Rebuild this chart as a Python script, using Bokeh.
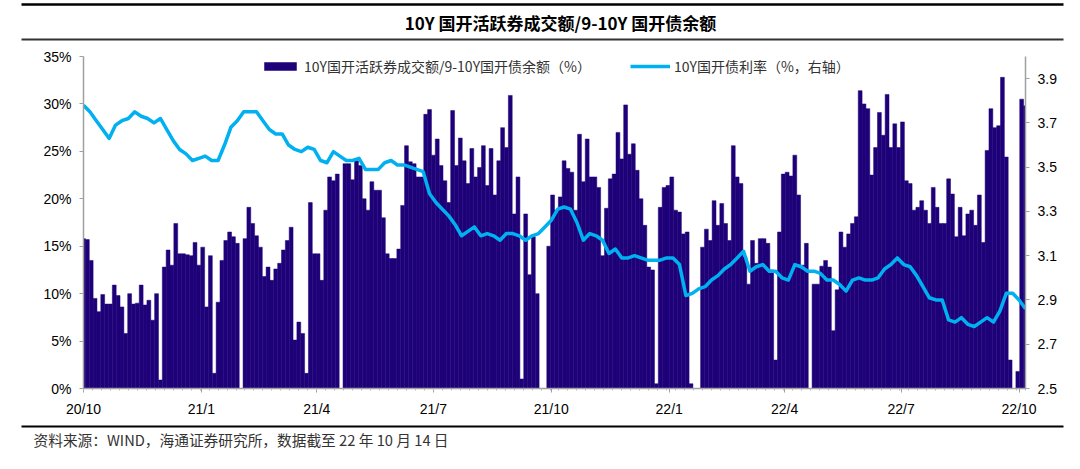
import pandas as pd
from bokeh.plotting import figure
from bokeh.models import (Range1d, LinearAxis, FixedTicker, PrintfTickFormatter,
                          Legend, LegendItem, ColumnDataSource)
from bokeh.layouts import column
from bokeh.embed import file_html
from bokeh.resources import INLINE
from bokeh.core.properties import value

# ---------------- data ----------------
start_date = "2020-10-09"
end_date = "2022-10-14"

bar_step_days = 3
bar_values = [
    15.8, 15.7, 13.5, 9.5, 8.1, 9.9, 8.9, 8.9, 10.9, 9.8,
    8.6, 5.8, 10.0, 8.9, 9.0, 10.9, 8.8, 9.3, 7.2, 10.0,
    0.9, 12.8, 14.6, 13.0, 17.4, 14.2, 14.2, 14.1, 14.0, 15.4,
    13.0, 14.9, 8.6, 14.0, 1.6, 9.1, 13.5, 15.6, 16.5, 16.0,
    15.3, 0.0, 15.8, 19.1, 17.4, 16.1, 14.9, 11.8, 12.8, 11.4,
    12.6, 13.2, 14.6, 15.6, 17.0, 5.1, 7.0, 5.8, 1.6, 19.6,
    14.2, 14.2, 11.4, 18.8, 22.3, 21.9, 22.6, 0.0, 23.7, 23.7,
    22.0, 24.0, 23.5, 20.0, 18.8, 21.8, 20.9, 20.9, 18.0, 14.2,
    13.7, 13.7, 14.7, 19.3, 25.6, 23.9, 23.7, 22.3, 22.3, 28.9,
    29.4, 24.6, 26.3, 23.5, 21.9, 19.6, 29.3, 23.5, 26.4, 24.0,
    21.6, 25.3, 22.3, 23.3, 25.6, 21.4, 25.3, 20.4, 24.0, 27.5,
    25.4, 30.9, 18.4, 22.3, 1.0, 18.4, 12.0, 16.0, 10.0, 0.0,
    0.0, 15.0, 20.4, 18.8, 20.2, 24.0, 23.2, 22.8, 18.8, 26.8,
    21.8, 26.3, 22.3, 22.3, 21.2, 14.0, 19.0, 22.1, 22.6, 27.0,
    24.2, 29.9, 24.7, 25.8, 23.0, 20.0, 17.2, 12.8, 12.5, 0.5,
    19.1, 21.2, 21.4, 22.3, 18.8, 18.6, 16.3, 16.5, 0.5, 0.0,
    0.0, 14.9, 16.8, 15.6, 19.8, 17.2, 19.5, 17.4, 15.6, 25.6,
    22.3, 21.6, 13.9, 11.0, 15.6, 13.2, 15.8, 15.8, 15.3, 12.5,
    3.0, 16.5, 22.6, 22.8, 22.4, 24.6, 20.4, 13.0, 15.3, 0.0,
    11.0, 11.0, 12.9, 13.5, 12.8, 6.1, 10.4, 16.5, 14.9, 16.3,
    17.4, 18.1, 31.4, 30.0, 29.5, 22.5, 25.4, 29.1, 26.7, 31.0,
    25.4, 27.9, 25.4, 28.1, 21.9, 21.6, 18.8, 19.1, 19.8, 18.8,
    17.4, 21.2, 19.1, 17.4, 17.4, 22.1, 20.5, 16.0, 19.1, 16.1,
    18.4, 18.8, 17.2, 20.4, 15.4, 25.1, 29.5, 27.5, 27.7, 32.8,
    24.4, 3.0, 0.0, 1.8, 30.5, 29.8,
]

line_step_days = 5
line_values = [
    3.78, 3.75, 3.71, 3.67, 3.63, 3.69, 3.71, 3.72, 3.75, 3.73,
    3.72, 3.70, 3.72, 3.67, 3.62, 3.58, 3.56, 3.53, 3.54, 3.55,
    3.53, 3.53, 3.60, 3.68, 3.71, 3.75, 3.75, 3.75, 3.71, 3.67,
    3.65, 3.65, 3.60, 3.58, 3.57, 3.59, 3.58, 3.53, 3.52, 3.57,
    3.55, 3.53, 3.53, 3.54, 3.49, 3.49, 3.49, 3.52, 3.53, 3.51,
    3.51, 3.50, 3.49, 3.48, 3.38, 3.34, 3.31, 3.28, 3.24, 3.19,
    3.21, 3.23, 3.19, 3.20, 3.19, 3.17, 3.20, 3.20, 3.19, 3.17,
    3.19, 3.20, 3.23, 3.26, 3.31, 3.32, 3.31, 3.25, 3.17, 3.20,
    3.19, 3.17, 3.11, 3.13, 3.09, 3.09, 3.10, 3.09, 3.08, 3.08,
    3.08, 3.09, 3.09, 3.06, 2.92, 2.93, 2.95, 2.96, 2.99, 3.01,
    3.04, 3.06, 3.09, 3.12, 3.03, 3.05, 3.06, 3.03, 3.03, 3.00,
    2.99, 3.06, 3.05, 3.03, 3.03, 3.02, 2.99, 2.99, 2.97, 2.94,
    2.99, 3.00, 2.99, 2.99, 3.00, 3.04, 3.06, 3.09, 3.06, 3.05,
    3.01, 2.96, 2.91, 2.90, 2.90, 2.81, 2.80, 2.82, 2.79, 2.78,
    2.80, 2.82, 2.80, 2.85, 2.93, 2.93, 2.90, 2.86,
]

tick_dates = ["2020-10-09", "2021-01-09", "2021-04-09", "2021-07-09", "2021-10-09",
              "2022-01-09", "2022-04-09", "2022-07-09", "2022-10-09"]
tick_labels = ["20/10", "21/1", "21/4", "21/7", "21/10", "22/1", "22/4", "22/7", "22/10"]

left_ticks = [0, 5, 10, 15, 20, 25, 30, 35]
right_ticks = [2.5, 2.7, 2.9, 3.1, 3.3, 3.5, 3.7, 3.9]

title_text = "10Y 国开活跃券成交额/9-10Y 国开债余额"
bar_label = "10Y国开活跃券成交额/9-10Y国开债余额（%）"
line_label = "10Y国开债利率（%，右轴）"
source_text = "资料来源：WIND，海通证券研究所，数据截至 22 年 10 月 14 日"

# ---------------- derived positions (days since start) ----------------
t0 = pd.Timestamp(start_date)
span_days = (pd.Timestamp(end_date) - t0).days
bar_days = [i * bar_step_days for i in range(len(bar_values))]
line_days = [j * line_step_days for j in range(len(line_values))]
tick_days = [(pd.Timestamp(d) - t0).days for d in tick_dates]
week_days = list(range(0, span_days + 1, 7))

W = 1080
HEAD_H, MAIN_H, FOOT_H = 48, 372, 49
CJK = "Noto Sans CJK SC"
LATIN = "Liberation Sans"
BAR_COLOR = "#1E0078"
LINE_COLOR = "#00B0F0"
AXIS_COLOR = "#A0A0A0"

# ---------------- header ----------------
head = figure(width=W, height=HEAD_H, x_range=Range1d(0, W), y_range=Range1d(HEAD_H, 0),
              x_axis_type=None, y_axis_type=None, toolbar_location=None,
              output_backend="svg", min_border=0, outline_line_color=None,
              frame_align=False)
head.segment(x0=[21, 21], y0=[4, 39], x1=[1063, 1063], y1=[4, 39],
             line_color=["#000000", "#333333"], line_width=[2.5, 2])
head.text(x=[560], y=[22], text=[title_text], text_align="center", text_baseline="middle",
          text_font=value(CJK), text_font_style="bold", text_font_size="17px",
          text_color="#000000")

# ---------------- main chart ----------------
p = figure(width=W, height=MAIN_H, x_range=Range1d(0, span_days), y_range=Range1d(0, 35),
           toolbar_location=None, output_backend="svg",
           min_border_left=83, min_border_right=55, min_border_top=8, min_border_bottom=32,
           outline_line_color=None, frame_align=False)
p.grid.visible = False
p.extra_y_ranges = {"right": Range1d(2.5, 4.0)}

src = ColumnDataSource(dict(x=bar_days, top=bar_values))
bars = p.vbar(x="x", top="top", bottom=0, width=bar_step_days, source=src,
              fill_color=BAR_COLOR, line_color=BAR_COLOR, line_width=0.5)
yl = p.line(x=line_days, y=line_values, y_range_name="right",
            line_color=LINE_COLOR, line_width=3.5, line_join="round")

xa = p.xaxis[0]
xa.ticker = FixedTicker(ticks=tick_days, minor_ticks=week_days)
xa.major_label_overrides = {d: lab for d, lab in zip(tick_days, tick_labels)}
xa.axis_line_color = AXIS_COLOR
xa.axis_line_width = 1.5
xa.major_tick_line_color = AXIS_COLOR
xa.major_tick_in = 0
xa.major_tick_out = 4
xa.minor_tick_line_color = "#B8B0D8"
xa.minor_tick_in = 0
xa.minor_tick_out = 2
xa.major_label_standoff = 8
xa.major_label_text_font = LATIN
xa.major_label_text_font_size = "14px"
xa.major_label_text_color = "#000000"

ya = p.yaxis[0]
ya.ticker = FixedTicker(ticks=left_ticks)
ya.formatter = PrintfTickFormatter(format="%d%%")
ya.axis_line_color = AXIS_COLOR
ya.axis_line_width = 1.5
ya.major_tick_line_color = AXIS_COLOR
ya.major_tick_in = 0
ya.major_tick_out = 4
ya.minor_tick_line_color = None
ya.major_label_standoff = 8
ya.major_label_text_font = LATIN
ya.major_label_text_font_size = "14px"
ya.major_label_text_color = "#000000"

ra = LinearAxis(y_range_name="right", ticker=FixedTicker(ticks=right_ticks),
                formatter=PrintfTickFormatter(format="%.1f"))
ra.axis_line_color = AXIS_COLOR
ra.axis_line_width = 1.5
ra.major_tick_line_color = AXIS_COLOR
ra.major_tick_in = 0
ra.major_tick_out = 4
ra.minor_tick_line_color = None
ra.major_label_standoff = 8
ra.major_label_text_font = LATIN
ra.major_label_text_font_size = "14px"
ra.major_label_text_color = "#000000"
p.add_layout(ra, "right")

legend_style = dict(orientation="horizontal", glyph_width=40, glyph_height=10,
                    label_standoff=4, padding=0, margin=0, spacing=0,
                    border_line_color=None, background_fill_alpha=0,
                    label_text_font=CJK, label_text_font_size="14px",
                    label_text_color="#333333", label_height=22)
leg1 = Legend(items=[LegendItem(label=bar_label, renderers=[bars])],
              location=(177, 311), **legend_style)
leg2 = Legend(items=[LegendItem(label=line_label, renderers=[yl])],
              location=(547, 311), **legend_style)
p.add_layout(leg1)
p.add_layout(leg2)

# ---------------- footer ----------------
foot = figure(width=W, height=FOOT_H, x_range=Range1d(0, W), y_range=Range1d(FOOT_H, 0),
              x_axis_type=None, y_axis_type=None, toolbar_location=None,
              output_backend="svg", min_border=0, outline_line_color=None,
              frame_align=False)
foot.segment(x0=[21], y0=[6], x1=[1063], y1=[6], line_color="#000000", line_width=2)
foot.text(x=[33], y=[19], text=[source_text], text_align="left", text_baseline="middle",
          text_font=value(CJK), text_font_size="14.7px", text_color="#333333")

layout = column(head, p, foot)
open("out.html", "w").write(file_html(layout, INLINE))
